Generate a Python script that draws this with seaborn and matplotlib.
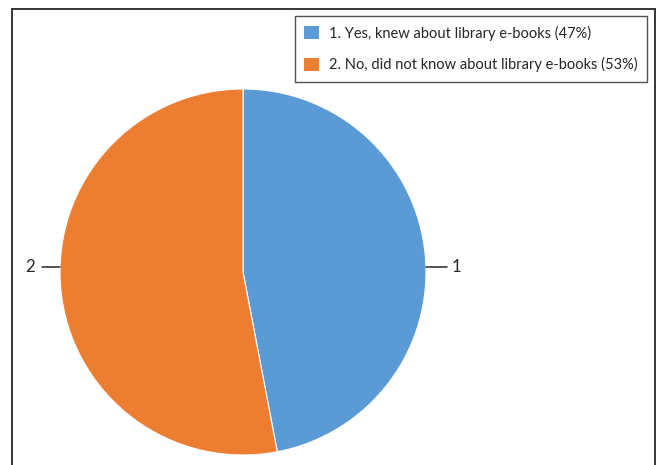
import matplotlib
matplotlib.use("Agg")
import matplotlib.pyplot as plt
import matplotlib.patches as mpatches
from matplotlib.lines import Line2D
import seaborn as sns

# data
slice_ids = ["1", "2"]
legend_labels = ["1. Yes, knew about library e-books (47%)",
                 "2. No, did not know about library e-books (53%)"]
shares = [47, 53]
colors = ["#5B9BD5", "#ED7D31"]

sns.set_theme(style="white")
plt.rcParams['font.family'] = ['Lato', 'DejaVu Sans']

fig = plt.figure(figsize=(6.57, 4.65), dpi=100)
W, H = 657, 465

# chart frame (open at the bottom)
fx0, fx1, fy1 = 11.5 / W, 654.5 / W, 1 - 9.5 / H
for xs, ys in [([fx0, fx0], [0, fy1]), ([fx0, fx1], [fy1, fy1]), ([fx1, fx1], [fy1, 0])]:
    fig.add_artist(Line2D(xs, ys, color="#262626", lw=1.3, transform=fig.transFigure))

# pie axes: center (243, 272), radius 183 px
cx, cy, r = 243, 272, 183
ax = fig.add_axes([(cx - r) / W, (H - cy - r) / H, 2 * r / W, 2 * r / H])
wedges, _ = ax.pie(shares, colors=colors, startangle=90, counterclock=False,
                   wedgeprops=dict(edgecolor="white", linewidth=0.8))
ax.set_xlim(-1, 1)
ax.set_ylim(-1, 1)
ax.set_aspect("equal")
ax.axis("off")

# leader lines + labels
ly = 0.025
ax.plot([1.0, 1.115], [ly, ly], color="#262626", lw=1.1, clip_on=False)
ax.text(1.165, ly, slice_ids[0], ha="center", va="center", fontsize=12, color="#262626")
ax.plot([-1.0, -1.1], [ly, ly], color="#262626", lw=1.1, clip_on=False)
ax.text(-1.165, ly, slice_ids[1], ha="center", va="center", fontsize=12, color="#262626")

handles = [mpatches.Patch(facecolor=c, edgecolor="none") for c in colors]
leg = fig.legend(handles, legend_labels, loc="upper right",
                 bbox_to_anchor=(647 / W, 1 - 16 / H), fontsize=10.5,
                 frameon=True, fancybox=False, edgecolor="#262626",
                 handlelength=1.0, handleheight=1.0, handletextpad=0.7,
                 labelspacing=1.15, borderpad=0.65, borderaxespad=0)
leg.get_frame().set_linewidth(1.0)

fig.savefig("out.png", dpi=100)
